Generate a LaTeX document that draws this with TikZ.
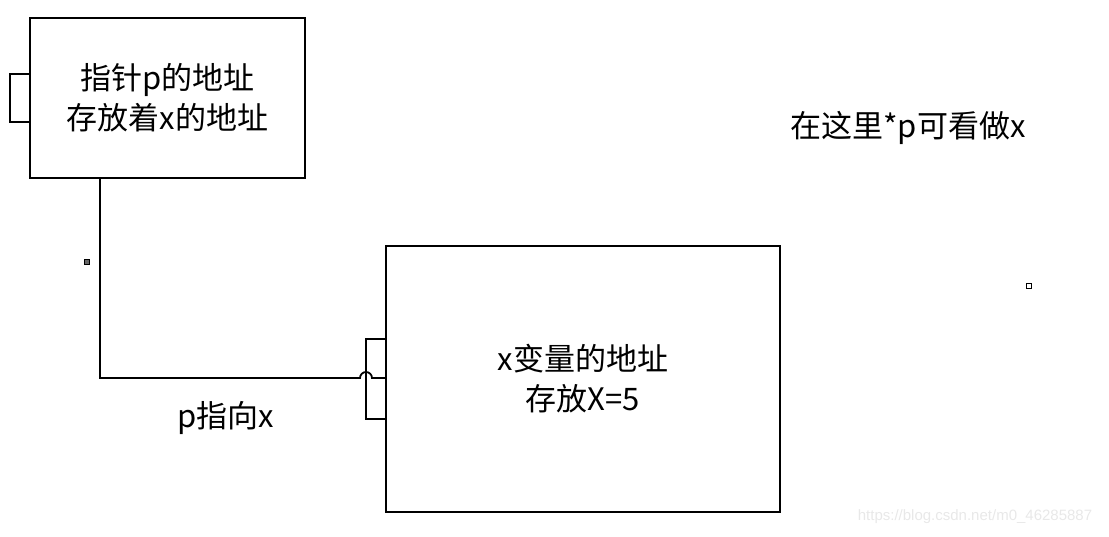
\documentclass[tikz,border=0pt]{standalone}
\usepackage{fontspec}
\newfontfamily\cjk{Noto Sans CJK SC}
\newfontfamily\marksans{Liberation Sans}
\usetikzlibrary{positioning}

\tikzset{
  membox/.style={draw,line width=1.8pt,inner sep=0pt,outer sep=0pt,align=center},
  portbox/.style={draw,line width=1.8pt,inner sep=0pt,outer sep=0pt,minimum width=20pt},
  dotbox/.style={draw,line width=1.5pt,fill=white,inner sep=0pt,minimum size=5pt}
}

\begin{document}
\begin{tikzpicture}[x=1pt,y=-1pt,font=\cjk\fontsize{31}{40}\selectfont]
    \useasboundingbox (0,0) rectangle (1109,536);
    % the two memory cells
    \node[membox,minimum width=275pt,minimum height=160pt] (ptrbox) at (167.5,98)
      {指针p的地址\\存放着x的地址};
    \node[membox,minimum width=394pt,minimum height=266pt] (xbox) at (583,379)
      {x变量的地址\\存放X=5};
    \node[portbox,minimum height=48pt,left=0pt of ptrbox] (ptrport) {};
    \node[portbox,minimum height=80pt,left=0pt of xbox] (xport) {};
    % the pointer line, with a hop over the port edge
    \coordinate (turn) at (100,378);
    \coordinate (hop) at (xport.west |- turn);
    \draw[line width=1.8pt] (turn |- ptrbox.south) -- (turn) -- ([xshift=-6]hop)
      arc[start angle=180,end angle=360,radius=6] -- (turn -| xbox.west);
    \node (pointsto) at (226,418) {p指向x};
    \node (note) at (908,128) {在这里*p可看做x};
    % stray handles
    \node[dotbox,fill=black!60] (dotl) at (87,262) {};
    \node[dotbox] (dotr) at (1029,286) {};
    \node[text=black!9,font=\marksans\fontsize{15}{15}\selectfont] (mark) at (975,517)
      {https://blog.csdn.net/m0\_46285887};
\end{tikzpicture}
\end{document}
